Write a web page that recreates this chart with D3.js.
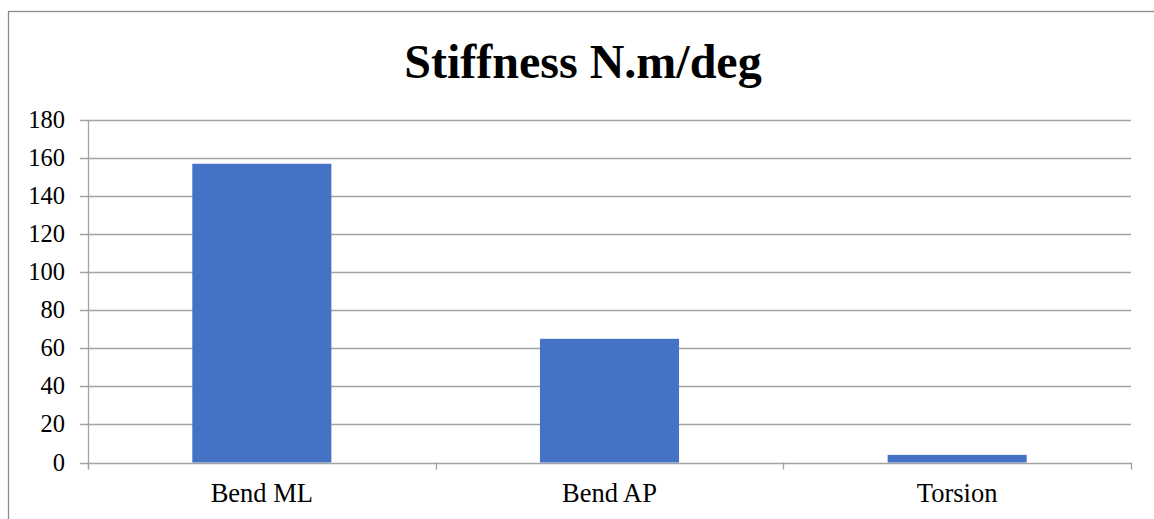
<!DOCTYPE html>
<html>
<head>
<meta charset="utf-8">
<script src="https://cdn.jsdelivr.net/npm/d3@7"></script>
<style>
  body { margin: 0; background: #fff; }
  svg { display: block; }
</style>
</head>
<body>
<div id="chart"></div>
<script>
// Data
const categories = ["Bend ML", "Bend AP", "Torsion"];
const values = [157, 65, 4];
const yTicks = [0, 20, 40, 60, 80, 100, 120, 140, 160, 180];
const title = "Stiffness N.m/deg";

const width = 1154, height = 519;
const margin = { top: 120, right: 23, bottom: 56, left: 88 };

let svg = d3.select('#chart')
    .append('svg')
    .attr('width', width)
    .attr('height', height);

// outer chart border (runs off the right and bottom edges)
svg.append('rect')
    .attr('x', 8.5)
    .attr('y', 11.5)
    .attr('width', 1160)
    .attr('height', 520)
    .attr('fill', 'none')
    .attr('stroke', '#8c8c8c')
    .attr('stroke-width', 1.3);

let x = d3.scaleBand()
    .domain(categories)
    .range([margin.left, width - margin.right])
    .paddingInner(0.6)
    .paddingOuter(0.3);

let y = d3.scaleLinear()
    .domain([0, 180])
    .range([height - margin.bottom - 0.5, margin.top]);

// Gridlines
svg.append('g')
    .selectAll('line')
    .data(yTicks)
    .enter()
    .append('line')
    .attr('x1', margin.left - 8)
    .attr('x2', width - margin.right)
    .attr('y1', d => Math.round(y(d)) + 0.5)
    .attr('y2', d => Math.round(y(d)) + 0.5)
    .attr('stroke', '#a3a3a3')
    .attr('stroke-width', 1.3);

// Bars
svg.append('g')
    .selectAll('rect')
    .data(values)
    .enter()
    .append('rect')
    .attr('x', (d, i) => x(categories[i]))
    .attr('y', d => y(d))
    .attr('width', x.bandwidth())
    .attr('height', d => y(0) - y(d))
    .attr('fill', '#4472c4');

// Y axis line
svg.append('line')
    .attr('x1', margin.left + 0.5)
    .attr('x2', margin.left + 0.5)
    .attr('y1', margin.top)
    .attr('y2', y(0) + 7)
    .attr('stroke', '#a3a3a3')
    .attr('stroke-width', 1.3);

// Category boundary ticks under the x axis
let step = x.step();
let bounds = d3.range(categories.length + 1).map(i => margin.left + i * step);
svg.append('g')
    .selectAll('line')
    .data(bounds)
    .enter()
    .append('line')
    .attr('x1', d => Math.round(d) + 0.5)
    .attr('x2', d => Math.round(d) + 0.5)
    .attr('y1', y(0))
    .attr('y2', y(0) + 7)
    .attr('stroke', '#a3a3a3')
    .attr('stroke-width', 1.3);

// Y tick labels
svg.append('g')
    .selectAll('text')
    .data(yTicks)
    .enter()
    .append('text')
    .attr('x', 65)
    .attr('y', d => y(d) + 8)
    .attr('text-anchor', 'end')
    .style('font-family', '"Liberation Serif", "Times New Roman", serif')
    .style('font-size', '24.5px')
    .attr('fill', '#000')
    .text(d => d);

// Category labels
svg.append('g')
    .selectAll('text')
    .data(categories)
    .enter()
    .append('text')
    .attr('x', d => x(d) + x.bandwidth() / 2)
    .attr('y', 502)
    .attr('text-anchor', 'middle')
    .style('font-family', '"Liberation Serif", "Times New Roman", serif')
    .style('font-size', '26.5px')
    .attr('fill', '#000')
    .text(d => d);

// Title
svg.append('text')
    .attr('x', 583)
    .attr('y', 78)
    .attr('text-anchor', 'middle')
    .style('font-family', '"Liberation Serif", "Times New Roman", serif')
    .style('font-size', '48px')
    .style('font-weight', 'bold')
    .attr('fill', '#000')
    .text(title);
</script>
</body>
</html>
